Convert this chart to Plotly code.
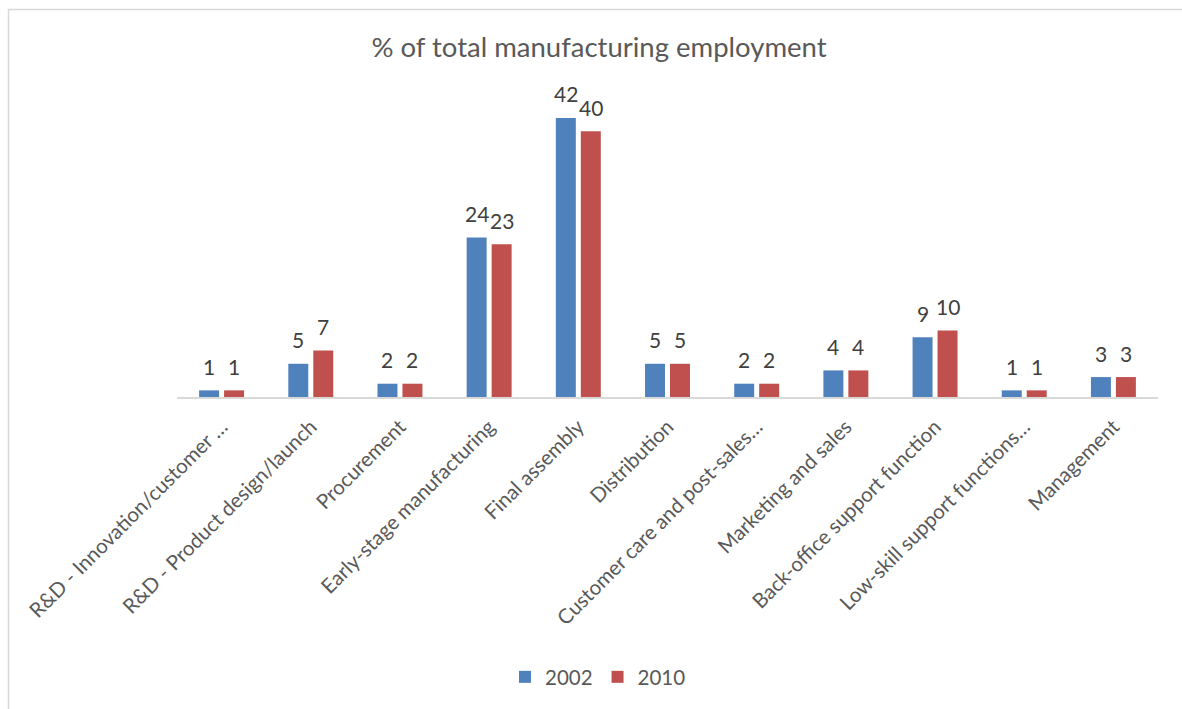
import plotly.graph_objects as go

categories = [
    "R&D - Innovation/customer …",
    "R&D - Product design/launch",
    "Procurement",
    "Early-stage manufacturing",
    "Final assembly",
    "Distribution",
    "Customer care and post-sales…",
    "Marketing and sales",
    "Back-office support function",
    "Low-skill support functions…",
    "Management",
]
values_2002 = [1, 5, 2, 24, 42, 5, 2, 4, 9, 1, 3]
values_2010 = [1, 7, 2, 23, 40, 5, 2, 4, 10, 1, 3]
series_names = ["2002", "2010"]
series_colors = ["#4f81bd", "#c0504d"]

FONT = "Lato"
W, H = 1182, 709
M_L, M_R, M_T, M_B = 177, 24, 98, 312
Y_MAX = 45

fig = go.Figure()
for name, vals, col in zip(series_names, [values_2002, values_2010], series_colors):
    fig.add_trace(go.Bar(
        x=categories, y=vals, name=name,
        marker=dict(color=col, line=dict(width=0)),
    ))

# value labels above each bar
annotations = []
for shift, vals in zip([-12.5, 12.5], [values_2002, values_2010]):
    for c, v in zip(categories, vals):
        annotations.append(dict(
            x=c, y=v, xref="x", yref="y", text=str(v), showarrow=False,
            xshift=shift, yshift=24, yanchor="middle",
            font=dict(family=FONT, size=21, color="#404040"),
        ))

# outer chart frame
pw = W - M_L - M_R
ph = H - M_T - M_B
fx0 = (8.5 - M_L) / pw
fx1 = (W + 20 - M_L) / pw
fy1 = (H - M_B - 9.5) / ph
fy0 = (H - M_B - (H + 20)) / ph

fig.update_layout(
    width=W, height=H,
    margin=dict(l=M_L, r=M_R, t=M_T, b=M_B),
    paper_bgcolor="white", plot_bgcolor="white",
    barmode="group", bargap=0.44, bargroupgap=0.2,
    title=dict(
        text="% of total manufacturing employment",
        x=599 / W, xref="container", xanchor="center",
        y=1 - 47 / H, yref="container", yanchor="middle",
        font=dict(family=FONT, size=27.5, color="#595959"),
    ),
    xaxis=dict(
        tickangle=-45, showgrid=False, showline=True,
        linecolor="#d9d9d9", linewidth=1.5, ticks="",
        ticklabelstandoff=8,
        tickfont=dict(family=FONT, size=20.5, color="#595959"),
    ),
    yaxis=dict(range=[0, Y_MAX], visible=False, showgrid=False, zeroline=False),
    legend=dict(
        orientation="h", x=598 / W, xref="container", xanchor="center",
        y=1 - 677 / H, yref="container", yanchor="middle",
        font=dict(family=FONT, size=20.5, color="#595959"),
        itemwidth=30,
    ),
    annotations=annotations,
    shapes=[dict(
        type="rect", xref="paper", yref="paper",
        x0=fx0, x1=fx1, y0=fy0, y1=fy1,
        line=dict(color="#d9d9d9", width=1.5), fillcolor="rgba(0,0,0,0)",
        layer="below",
    )],
    showlegend=True,
)

fig.write_html("out.html")
